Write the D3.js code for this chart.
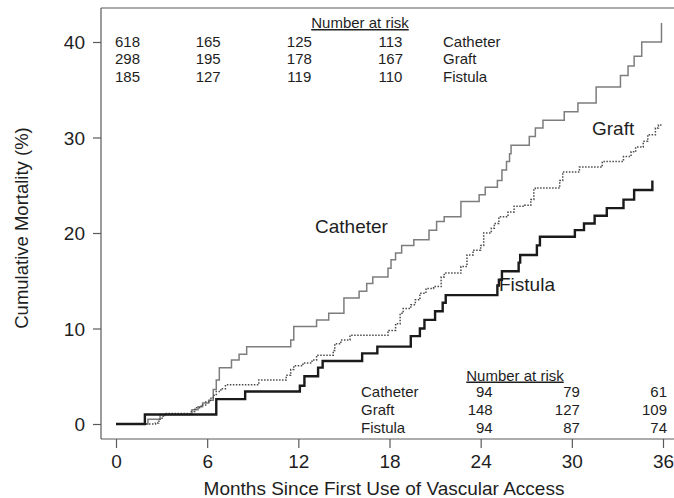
<!DOCTYPE html>
<html><head><meta charset="utf-8">
<script src="https://cdn.jsdelivr.net/npm/d3@7"></script>
<style>
body{margin:0;background:#fff;}
svg{display:block;font-family:"Liberation Sans",Arial,sans-serif;}
</style></head>
<body><svg id="c" width="674" height="498"></svg>
<script>
// ---- data ----
const xTicks = [0, 6, 12, 18, 24, 30, 36];
const yTicks = [0, 10, 20, 30, 40];
const groups = ["Catheter", "Graft", "Fistula"];
// step points [month, cumulative mortality %]
const catheter = [[0,0],[2.1,0.5],[2.9,1.0],[5.0,1.5],[5.4,1.8],[5.7,2.2],[6.1,2.5],[6.4,3.6],[6.6,4.6],[6.8,5.9],[7.6,6.7],[8.1,7.3],[8.6,8.1],[11.5,8.8],[11.7,10.2],[13.2,10.9],[14.0,11.6],[15.0,13.2],[16.0,13.9],[16.5,14.7],[16.9,15.4],[17.9,16.3],[18.1,17.2],[18.4,17.9],[18.8,18.7],[19.6,19.3],[20.6,20.3],[21.1,21.2],[21.6,21.7],[22.7,23.3],[23.9,24.0],[24.3,24.8],[25.1,25.5],[25.4,26.6],[25.7,27.5],[25.9,28.3],[26.0,29.2],[27.2,30.1],[27.6,31.0],[28.1,31.8],[29.5,32.7],[30.4,33.6],[31.6,35.3],[33.2,36.5],[33.7,37.5],[34.1,38.5],[34.6,40.0],[35.9,42.0],[35.9,42.0]];
const graft = [[0,0],[2.6,0.1],[2.8,0.3],[2.9,0.6],[3.1,0.9],[3.2,1.1],[4.9,1.3],[5.2,1.7],[5.6,2.0],[5.9,2.3],[6.2,2.7],[6.4,3.0],[6.6,3.4],[6.9,3.7],[7.2,4.1],[9.4,4.6],[11.2,5.1],[11.5,5.7],[11.7,6.1],[12.3,6.4],[12.9,6.7],[13.2,7.2],[14.3,7.7],[14.4,8.4],[14.8,8.8],[15.4,9.3],[17.9,9.8],[18.4,10.5],[18.7,11.6],[18.9,12.1],[19.4,12.5],[19.7,13.0],[20.0,13.7],[20.4,14.2],[20.9,14.4],[21.4,15.4],[21.6,15.8],[22.7,16.5],[23.1,17.7],[23.5,18.2],[24.0,18.7],[24.2,20.0],[24.7,20.5],[24.9,21.0],[25.2,21.7],[25.8,22.2],[26.2,22.8],[26.9,22.9],[27.3,23.5],[27.5,24.5],[27.6,24.7],[29.2,25.5],[29.4,26.4],[30.5,26.9],[32.0,27.5],[33.4,28.0],[33.9,28.5],[34.2,29.0],[34.7,29.6],[35.0,30.3],[35.5,31.0],[35.7,31.3],[35.9,31.3]];
const fistula = [[0,0],[1.9,1.0],[6.6,2.6],[8.5,3.4],[12.1,4.0],[12.4,5.0],[13.3,5.9],[13.6,6.6],[16.2,7.4],[17.2,8.1],[19.4,9.2],[20.0,10.0],[20.3,10.9],[21.0,11.8],[21.5,12.7],[21.7,13.5],[25.1,14.5],[25.2,15.1],[25.4,16.0],[26.5,16.9],[26.6,17.7],[27.7,18.7],[27.9,19.6],[30.2,20.3],[30.8,21.0],[31.5,21.8],[32.3,22.6],[33.4,23.5],[34.1,24.5],[35.3,25.5],[35.3,25.5]];
const riskTopMonths = [0, 6, 12, 18];
const riskTop = {Catheter:[618,165,125,113], Graft:[298,195,178,167], Fistula:[185,127,119,110]};
const riskBottomMonths = [24, 30, 36];
const riskBottom = {Catheter:[94,79,61], Graft:[148,127,109], Fistula:[94,87,74]};

// ---- layout ----
const svg = d3.select("#c");
const frameL = 101, frameT = 8, frameB = 439, frameR = 674;
const x = d3.scaleLinear().domain([0, 36]).range([116, 663]);
const y = d3.scaleLinear().domain([0, 40]).range([424, 42]);
const axisCol = "#5a5a5a", textCol = "#1e1e1e";
const bigFs = 19, tabFs = 15;

// frame
svg.append("line").attr("x1", frameL).attr("x2", frameR).attr("y1", frameT).attr("y2", frameT).attr("stroke", axisCol).attr("stroke-width", 1.2);

// axes
const gx = svg.append("g").attr("transform", `translate(0,${frameB})`)
  .call(d3.axisBottom(x).tickValues(xTicks).tickSize(9).tickPadding(7).tickFormat(d3.format("d")));
gx.select(".domain").attr("d", `M${frameL},0H${frameR}`);
const gy = svg.append("g").attr("transform", `translate(${frameL},0)`)
  .call(d3.axisLeft(y).tickValues(yTicks).tickSize(8).tickPadding(8).tickFormat(d3.format("d")));
gy.select(".domain").attr("d", `M0,${frameT}V${frameB}`);
[gx, gy].forEach(g => {
  g.selectAll("path,line").attr("stroke", axisCol).attr("stroke-width", 1.2);
  g.selectAll("text").attr("font-size", bigFs).attr("fill", textCol).attr("font-family", '"Liberation Sans",Arial,sans-serif');
});
gy.selectAll("text").attr("dy", "0.35em");

// axis titles
svg.append("text").attr("x", 384).attr("y", 495).attr("text-anchor", "middle")
  .attr("font-size", bigFs).attr("fill", textCol).text("Months Since First Use of Vascular Access");
svg.append("text").attr("transform", "translate(28,228) rotate(-90)").attr("text-anchor", "middle")
  .attr("font-size", 18.5).attr("fill", textCol).text("Cumulative Mortality (%)");

// curves
const line = d3.line().x(d => x(d[0])).y(d => y(d[1])).curve(d3.curveStepAfter);
svg.append("path").datum(catheter).attr("d", line).attr("fill", "none").attr("stroke", "#7d7d7d").attr("stroke-width", 1.5);
svg.append("path").datum(graft).attr("d", line).attr("fill", "none").attr("stroke", "#4a4a4a").attr("stroke-width", 1.5).attr("stroke-dasharray", "1.5,1.5");
svg.append("path").datum(fistula).attr("d", line).attr("fill", "none").attr("stroke", "#1a1a1a").attr("stroke-width", 2.4);

// curve labels
svg.append("text").attr("x", 315).attr("y", 233).attr("font-size", bigFs).attr("fill", textCol).text("Catheter");
svg.append("text").attr("x", 592).attr("y", 135).attr("font-size", bigFs).attr("fill", textCol).text("Graft");
svg.append("text").attr("x", 499).attr("y", 291).attr("font-size", bigFs).attr("fill", textCol).text("Fistula");

// top risk table
svg.append("text").attr("x", 360).attr("y", 28).attr("text-anchor", "middle").attr("font-size", tabFs)
  .attr("fill", textCol).attr("text-decoration", "underline").text("Number at risk");
const rowYTop = [47, 64, 81.5];
groups.forEach((g, i) => {
  riskTop[g].forEach((v, j) => {
    const m = riskTopMonths[j];
    svg.append("text").attr("x", m === 0 ? x(m) - 1 : x(m) + 1).attr("y", rowYTop[i])
      .attr("text-anchor", m === 0 ? "start" : "middle").attr("font-size", tabFs).attr("fill", textCol).text(v);
  });
  svg.append("text").attr("x", 443).attr("y", rowYTop[i]).attr("font-size", tabFs).attr("fill", textCol).text(g);
});

// bottom risk table
svg.append("text").attr("x", 515).attr("y", 380.5).attr("text-anchor", "middle").attr("font-size", tabFs)
  .attr("fill", textCol).attr("text-decoration", "underline").text("Number at risk");
const rowYBot = [397, 414.5, 433];
const botOffsets = [12, 8, 4];
groups.forEach((g, i) => {
  svg.append("text").attr("x", 361).attr("y", rowYBot[i]).attr("font-size", tabFs).attr("fill", textCol).text(g);
  riskBottom[g].forEach((v, j) => {
    svg.append("text").attr("x", x(riskBottomMonths[j]) + botOffsets[j]).attr("y", rowYBot[i])
      .attr("text-anchor", "end").attr("font-size", tabFs).attr("fill", textCol).text(v);
  });
});
</script></body></html>
